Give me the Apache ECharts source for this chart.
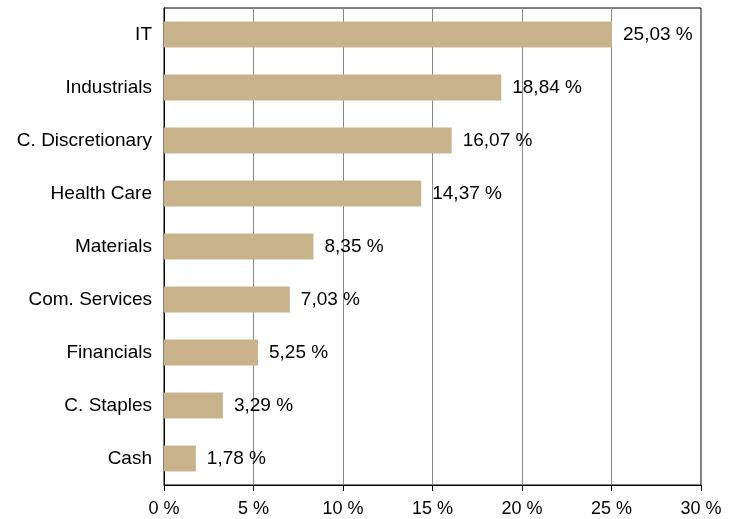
<!DOCTYPE html>
<html>
<head>
<meta charset="utf-8">
<script src="https://cdn.jsdelivr.net/npm/echarts@6/dist/echarts.min.js"></script>
<style>
html, body { margin: 0; padding: 0; background: #fff; }
#main { width: 737px; height: 519px; }
</style>
</head>
<body>
<div id="main"></div>
<script>
// sectors, bottom to top as drawn on the category axis
var sectors = ['Cash', 'C. Staples', 'Financials', 'Com. Services', 'Materials', 'Health Care', 'C. Discretionary', 'Industrials', 'IT'];
var weights = [1.78, 3.29, 5.25, 7.03, 8.35, 14.37, 16.07, 18.84, 25.03];
var xTicks = [0, 5, 10, 15, 20, 25, 30];

function fmt(v) {
	return v.toFixed(2).replace('.', ',') + ' %';
}

var myChart = echarts.init(document.getElementById('main'));
var option = {
	animation: false,
	textStyle: { fontFamily: 'Liberation Sans, Arial, sans-serif' },
	grid: {
		left: 164, right: 36, top: 8, bottom: 34,
		show: true,
		borderColor: '#000',
		borderWidth: 1
	},
	xAxis: {
		type: 'value',
		min: xTicks[0],
		max: xTicks[xTicks.length - 1],
		interval: 5,
		axisLine: { show: true, lineStyle: { color: '#000' } },
		axisTick: { show: true, length: 6, inside: false, lineStyle: { color: '#000' } },
		splitLine: { show: true, lineStyle: { color: '#888', width: 1 } },
		axisLabel: {
			color: '#000',
			fontSize: 18,
			margin: 15,
			formatter: function (v) { return v + ' %'; }
		}
	},
	yAxis: {
		type: 'category',
		data: sectors,
		axisLine: { show: true, lineStyle: { color: '#000' } },
		axisTick: { show: false },
		axisLabel: { color: '#000', fontSize: 19, margin: 12, padding: [4, 0, 0, 0] }
	},
	series: [{
		type: 'bar',
		data: weights,
		barCategoryGap: '51%',
		itemStyle: { color: '#C9B38B' },
		label: {
			show: true,
			position: 'right',
			distance: 11,
			color: '#000',
			fontSize: 19,
			padding: [4, 0, 0, 0],
			formatter: function (p) { return fmt(p.value); }
		}
	}]
};
myChart.setOption(option);
</script>
</body>
</html>
